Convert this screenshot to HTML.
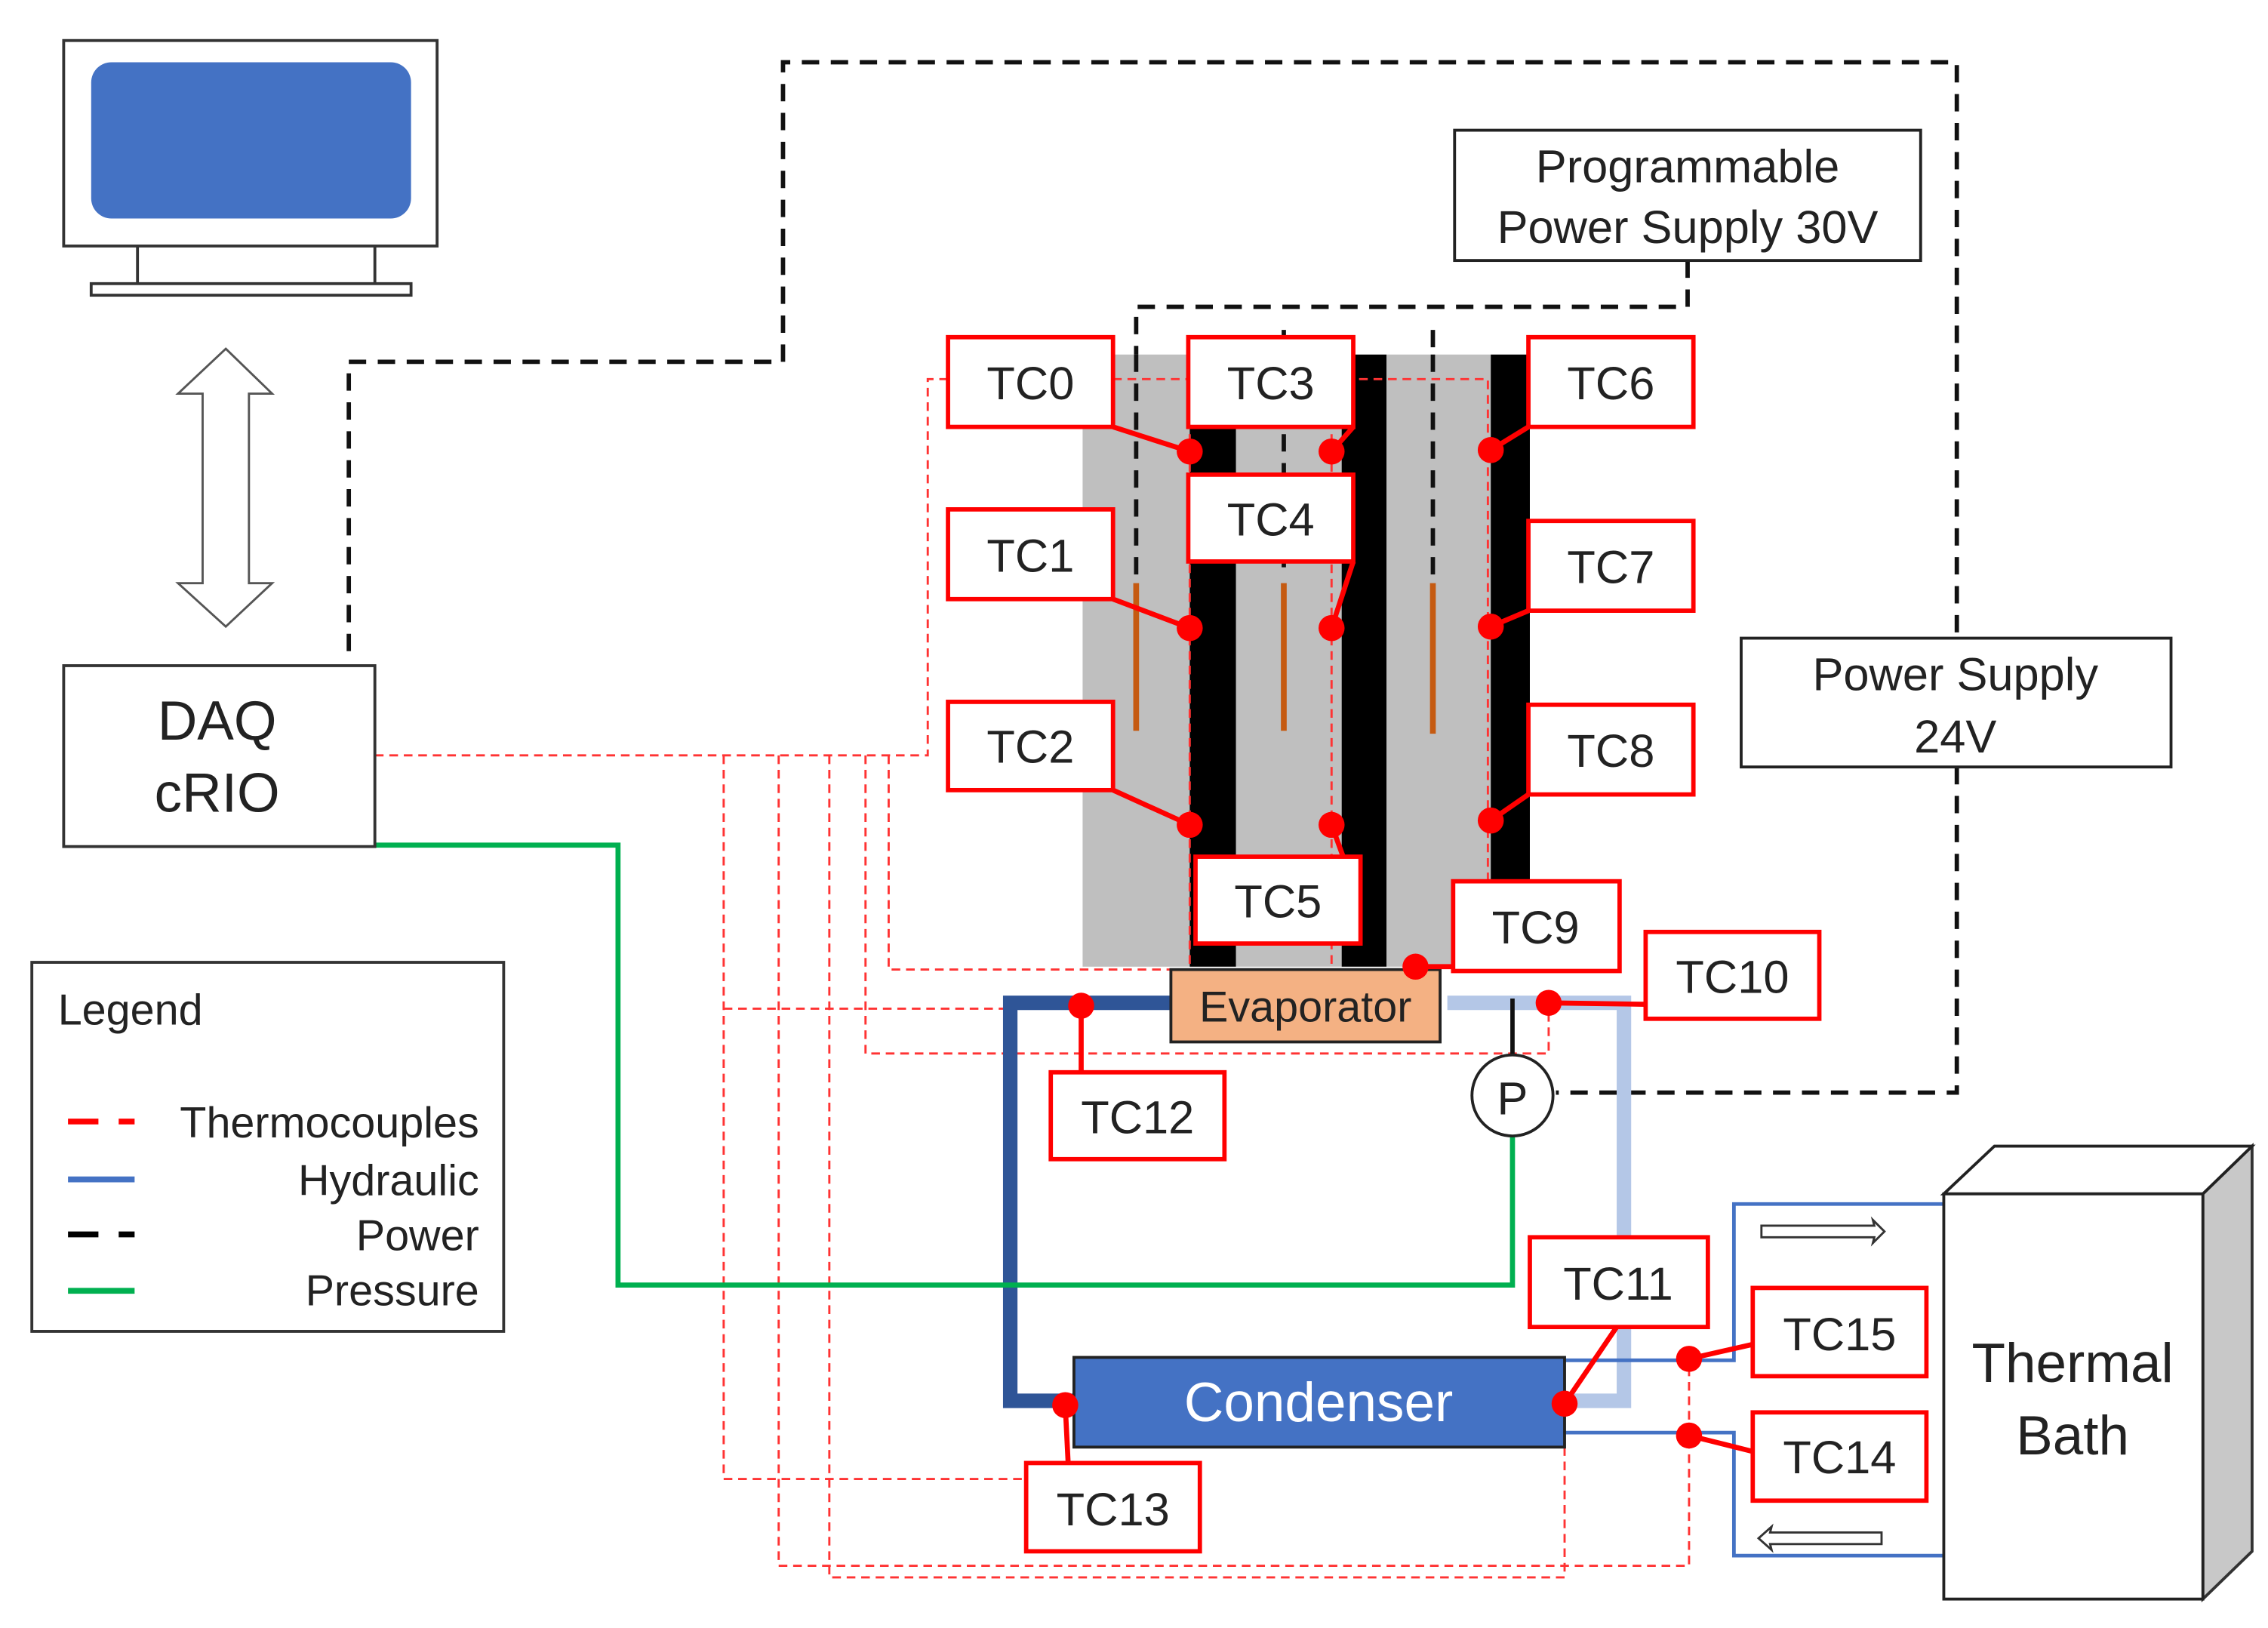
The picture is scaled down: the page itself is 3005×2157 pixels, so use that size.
<!DOCTYPE html>
<html><head><meta charset="utf-8"><style>
html,body{margin:0;padding:0;background:#fff;}
svg{display:block;}
text{font-family:"Liberation Sans",sans-serif;fill:#222;}
</style></head><body>
<svg width="3005" height="2157" viewBox="0 0 1567 1125" preserveAspectRatio="none" xmlns="http://www.w3.org/2000/svg">
<rect width="1567" height="1125" fill="#fff"/>
<!-- monitor -->
<rect x="44" y="28" width="258" height="142" fill="#fff" stroke="#333" stroke-width="2"/>
<rect x="63" y="43" width="221" height="108" rx="14" fill="#4472c4"/>
<line x1="95" y1="170" x2="95" y2="196" stroke="#333" stroke-width="2"/>
<line x1="259" y1="170" x2="259" y2="196" stroke="#333" stroke-width="2"/>
<rect x="63" y="196" width="221" height="8" fill="#fff" stroke="#333" stroke-width="2"/>
<!-- double arrow -->
<polygon points="156,241 188,272 172,272 172,403 188,403 156,433 123,403 140,403 140,272 123,272" fill="#fff" stroke="#555" stroke-width="1.5"/>
<!-- power dashed -->
<g fill="none" stroke="#111" stroke-width="3" stroke-dasharray="12,8">
<polyline points="241,450 241,250 541,250 541,43 1352,43 1352,441"/>
<polyline points="1352,530 1352,755 1075,755"/>
<polyline points="1166,180 1166,212 785,212 785,500"/>
<line x1="887" y1="228" x2="887" y2="500"/>
<line x1="990" y1="228" x2="990" y2="500"/>
</g>
<!-- heater block -->
<rect x="748" y="245" width="74" height="423" fill="#bfbfbf"/>
<rect x="822" y="245" width="32" height="423" fill="#000"/>
<rect x="854" y="245" width="73" height="423" fill="#bfbfbf"/>
<rect x="927" y="245" width="31" height="423" fill="#000"/>
<rect x="958" y="245" width="72" height="423" fill="#bfbfbf"/>
<rect x="1030" y="245" width="27" height="423" fill="#000"/>
<g stroke="#c55a11" stroke-width="4">
<line x1="785" y1="403" x2="785" y2="505"/><line x1="887" y1="403" x2="887" y2="505"/><line x1="990" y1="403" x2="990" y2="507"/>
</g>
<g fill="none" stroke="#111" stroke-width="3" stroke-dasharray="12,8">
<line x1="785" y1="245" x2="785" y2="400"/><line x1="887" y1="300" x2="887" y2="400"/><line x1="990" y1="245" x2="990" y2="400"/>
</g>
<!-- thermocouple dashed red -->
<g fill="none" stroke="#ff3333" stroke-width="1.5" stroke-dasharray="6,4">
<polyline points="259,522 641,522 641,262 1028,262 1028,668"/>
<line x1="822" y1="300" x2="822" y2="668"/>
<line x1="920" y1="300" x2="920" y2="668"/>
<polyline points="614,522 614,670 809,670"/>
<polyline points="598,522 598,728 1070,728 1070,693"/>
<polyline points="500,522 500,1022 736,1022"/>
<polyline points="500,697 698,697"/>
<polyline points="538,522 538,1082 1167,1082 1167,939"/>
<polyline points="573,522 573,1090 1081,1090 1081,970"/>
</g>
<!-- hydraulic -->
<polyline points="1000,693 1122,693 1122,968 1080,968" fill="none" stroke="#b4c7e7" stroke-width="10"/>
<polyline points="809,693 698,693 698,968 742,968" fill="none" stroke="#2f5597" stroke-width="10"/>
<!-- green pressure -->
<polyline points="259,584 427,584 427,888 1045,888 1045,785" fill="none" stroke="#00b050" stroke-width="3.5"/>
<!-- bath loop -->
<polyline points="1081,940 1198,940 1198,832 1343,832" fill="none" stroke="#4472c4" stroke-width="2.5"/>
<polyline points="1081,990 1198,990 1198,1075 1343,1075" fill="none" stroke="#4472c4" stroke-width="2.5"/>
<polygon points="1217,847 1295,847 1294,843 1302,851 1294,859 1295,855 1217,855" fill="#fff" stroke="#333" stroke-width="1.5"/>
<polygon points="1300,1059 1223,1059 1224,1055 1215,1063 1224,1071 1223,1067 1300,1067" fill="#fff" stroke="#333" stroke-width="1.5"/>
<!-- thermal bath -->
<polygon points="1522,825 1556,792 1556,1072 1522,1105" fill="#c8c8c8" stroke="#333" stroke-width="2"/>
<polygon points="1343,825 1378,792 1556,792 1522,825" fill="#fff" stroke="#222" stroke-width="2"/>
<rect x="1343" y="825" width="179" height="280" fill="#fff" stroke="#222" stroke-width="2"/>
<text x="1432" y="955" font-size="38" text-anchor="middle">Thermal</text>
<text x="1432" y="1005" font-size="38" text-anchor="middle">Bath</text>
<!-- evaporator -->
<rect x="809" y="670" width="186" height="50" fill="#f4b183" stroke="#222" stroke-width="2"/>
<text x="902" y="706" font-size="30" text-anchor="middle">Evaporator</text>
<!-- condenser -->
<rect x="742" y="938" width="339" height="62" fill="#4472c4" stroke="#222" stroke-width="2"/>
<text x="911" y="982" font-size="38" text-anchor="middle" style="fill:#fff">Condenser</text>
<!-- P -->
<line x1="1045" y1="690" x2="1045" y2="729" stroke="#111" stroke-width="3"/>
<circle cx="1045" cy="757" r="28" fill="#fff" stroke="#222" stroke-width="2"/>
<text x="1045" y="770" font-size="32" text-anchor="middle">P</text>
<!-- boxes -->
<rect x="44" y="460" width="215" height="125" fill="#fff" stroke="#333" stroke-width="2"/>
<text x="150" y="511" font-size="38" text-anchor="middle">DAQ</text>
<text x="150" y="561" font-size="38" text-anchor="middle">cRIO</text>
<rect x="1005" y="90" width="322" height="90" fill="#fff" stroke="#222" stroke-width="2"/>
<text x="1166" y="126" font-size="32" text-anchor="middle">Programmable</text>
<text x="1166" y="168" font-size="32" text-anchor="middle">Power Supply 30V</text>
<rect x="1203" y="441" width="297" height="89" fill="#fff" stroke="#222" stroke-width="2"/>
<text x="1351" y="477" font-size="32" text-anchor="middle">Power Supply</text>
<text x="1351" y="520" font-size="32" text-anchor="middle">24V</text>
<!-- legend -->
<rect x="22" y="665" width="326" height="255" fill="#fff" stroke="#333" stroke-width="2"/>
<text x="40" y="708" font-size="30">Legend</text>
<line x1="47" y1="775" x2="93" y2="775" stroke="#f00" stroke-width="4" stroke-dasharray="21,14"/>
<line x1="47" y1="815" x2="93" y2="815" stroke="#4472c4" stroke-width="4"/>
<line x1="47" y1="853" x2="93" y2="853" stroke="#000" stroke-width="4" stroke-dasharray="21,14"/>
<line x1="47" y1="892" x2="93" y2="892" stroke="#00b050" stroke-width="4"/>
<g font-size="30" text-anchor="end">
<text x="331" y="786">Thermocouples</text><text x="331" y="826">Hydraulic</text><text x="331" y="864">Power</text><text x="331" y="902">Pressure</text>
</g>
<!-- TC connector lines and dots -->
<g stroke="#f00" stroke-width="3.5" fill="none">
<line x1="769" y1="295" x2="822" y2="312"/><line x1="935" y1="295" x2="920" y2="312"/><line x1="1056" y1="295" x2="1030" y2="311"/>
<line x1="769" y1="414" x2="822" y2="434"/><line x1="935" y1="388" x2="920" y2="434"/><line x1="1056" y1="422" x2="1030" y2="433"/>
<line x1="769" y1="546" x2="822" y2="570"/><line x1="928" y1="592" x2="920" y2="570"/><line x1="1056" y1="549" x2="1030" y2="567"/>
<line x1="1004" y1="668" x2="978" y2="668"/><line x1="1137" y1="694" x2="1070" y2="693"/>
<line x1="747" y1="695" x2="747" y2="741"/><line x1="1117" y1="917" x2="1081" y2="970"/>
<line x1="1211" y1="929" x2="1167" y2="939"/><line x1="1211" y1="1003" x2="1167" y2="992"/>
<line x1="736" y1="971" x2="738" y2="1011"/>
</g>
<g fill="#f00">
<circle cx="822" cy="312" r="9"/><circle cx="920" cy="312" r="9"/><circle cx="1030" cy="311" r="9"/>
<circle cx="822" cy="434" r="9"/><circle cx="920" cy="434" r="9"/><circle cx="1030" cy="433" r="9"/>
<circle cx="822" cy="570" r="9"/><circle cx="920" cy="570" r="9"/><circle cx="1030" cy="567" r="9"/>
<circle cx="978" cy="668" r="9"/><circle cx="1070" cy="693" r="9"/><circle cx="747" cy="695" r="9"/>
<circle cx="1081" cy="970" r="9"/><circle cx="1167" cy="939" r="9"/><circle cx="1167" cy="992" r="9"/><circle cx="736" cy="971" r="9"/>
</g>
<g fill="#fff" stroke="#f00" stroke-width="3">
<rect x="655" y="233" width="114" height="62"/><rect x="821" y="233" width="114" height="62"/><rect x="1056" y="233" width="114" height="62"/>
<rect x="821" y="328" width="114" height="60"/><rect x="655" y="352" width="114" height="62"/><rect x="1056" y="360" width="114" height="62"/>
<rect x="655" y="485" width="114" height="61"/><rect x="1056" y="487" width="114" height="62"/><rect x="826" y="592" width="114" height="60"/>
<rect x="1004" y="609" width="115" height="62"/><rect x="1137" y="644" width="120" height="60"/><rect x="726" y="741" width="120" height="60"/>
<rect x="1057" y="855" width="123" height="62"/><rect x="1211" y="890" width="120" height="61"/><rect x="1211" y="976" width="120" height="61"/>
<rect x="709" y="1011" width="120" height="61"/>
</g>
<g font-size="32" text-anchor="middle">
<text x="712" y="276">TC0</text><text x="878" y="276">TC3</text><text x="1113" y="276">TC6</text>
<text x="878" y="370">TC4</text><text x="712" y="395">TC1</text><text x="1113" y="403">TC7</text>
<text x="712" y="527">TC2</text><text x="1113" y="530">TC8</text><text x="883" y="634">TC5</text>
<text x="1061" y="652">TC9</text><text x="1197" y="686">TC10</text><text x="786" y="783">TC12</text>
<text x="1118" y="898">TC11</text><text x="1271" y="933">TC15</text><text x="1271" y="1018">TC14</text>
<text x="769" y="1054">TC13</text>
</g>
</svg>
</body></html>
